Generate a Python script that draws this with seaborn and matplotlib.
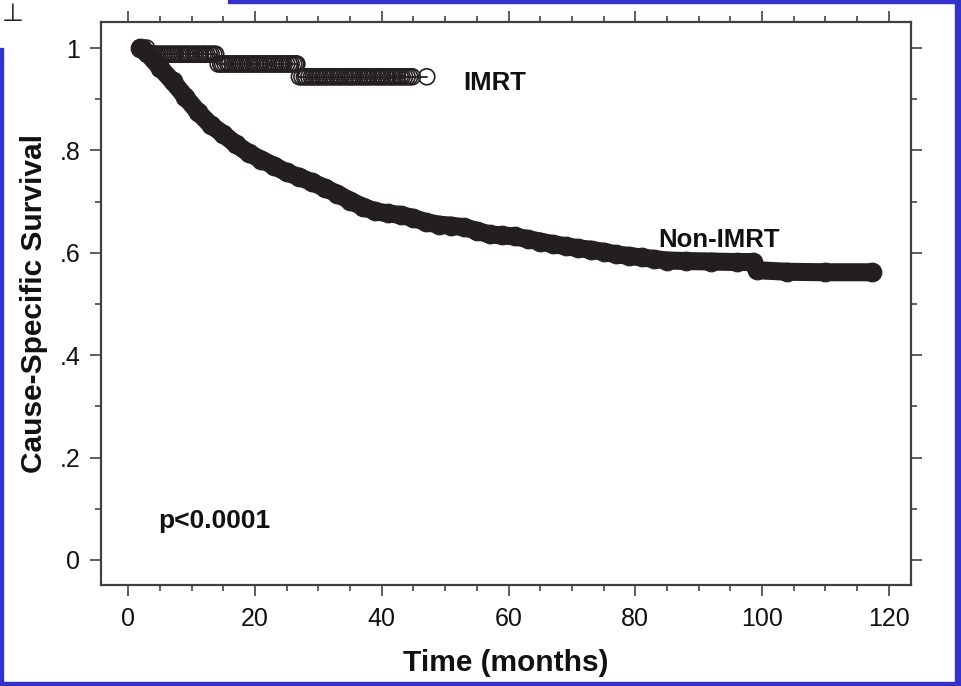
import matplotlib
matplotlib.use("Agg")
import matplotlib.pyplot as plt
import seaborn as sns
import pandas as pd
import numpy as np
from matplotlib.patches import Rectangle
from matplotlib.ticker import MultipleLocator

# ---------------- data ----------------
nonimrt_months = [1.9, 3, 5, 7, 9, 11, 13, 15, 17, 19, 21, 23, 25, 27, 29, 31, 33, 35,
                  37, 39, 41, 43, 45, 47, 49, 51, 53, 55, 57, 59, 61, 63, 65, 67, 69,
                  71, 73, 75, 77, 79, 81, 83, 85, 88, 92, 96, 98.5, 99.2, 104, 110, 117.3]
nonimrt_surv = [1.0, 0.99, 0.962, 0.935, 0.905, 0.875, 0.85, 0.832, 0.812, 0.795, 0.782,
                0.77, 0.757, 0.748, 0.738, 0.727, 0.715, 0.702, 0.690, 0.681, 0.677, 0.674,
                0.668, 0.66, 0.655, 0.653, 0.65, 0.643, 0.636, 0.634, 0.632, 0.627, 0.622,
                0.617, 0.613, 0.609, 0.606, 0.602, 0.597, 0.594, 0.591, 0.588, 0.585,
                0.584, 0.583, 0.582, 0.582, 0.566, 0.563, 0.562, 0.562]

imrt_step_months = [1.9, 3.0, 14.0, 26.8, 47.1]
imrt_step_surv = [1.0, 0.988, 0.969, 0.944, 0.944]
imrt_censor_months = [2.4, 2.9, 3.2, 3.6, 4.0, 4.3, 4.6, 5.0, 5.3, 5.7, 6.1, 6.4, 6.8,
                      7.1, 7.4, 7.8, 8.2, 8.5, 8.9, 9.2, 9.5, 9.9, 10.3, 10.6, 11.0,
                      11.4, 11.8, 12.1, 12.4, 12.8, 13.1, 13.5, 13.8, 14.2, 14.6, 14.9,
                      15.3, 15.7, 16.0, 16.4, 16.8, 17.1, 17.5, 17.8, 18.1, 18.5, 18.9,
                      19.2, 19.6, 20.0, 20.4, 20.7, 21.0, 21.4, 21.8, 22.1, 22.5, 22.9,
                      23.2, 23.6, 24.0, 24.3, 24.6, 25.0, 25.4, 25.7, 26.1, 26.4, 26.6,
                      27.0, 27.4, 27.8, 28.1, 28.5, 28.9, 29.2, 29.6, 30.0, 30.3, 30.7,
                      31.1, 31.4, 31.8, 32.2, 32.5, 32.9, 33.3, 33.6, 34.0, 34.4, 34.8,
                      35.1, 35.4, 35.8, 36.2, 36.6, 37.0, 37.3, 37.7, 38.0, 38.4, 38.8,
                      39.2, 39.5, 39.9, 40.2, 40.6, 41.0, 41.4, 41.7, 42.1, 42.5, 42.9,
                      43.2, 43.6, 44.0, 44.4, 44.8, 47.1]

x_ticks = [0, 20, 40, 60, 80, 100, 120]
y_ticks = [0, 0.2, 0.4, 0.6, 0.8, 1.0]
y_ticklabels = ["0", ".2", ".4", ".6", ".8", "1"]

# ---------------- style ----------------
sns.set_style("ticks")
plt.rcParams["font.family"] = ["Liberation Sans", "DejaVu Sans"]
INK = "#231f20"

fig = plt.figure(figsize=(9.61, 6.86), dpi=100)
ax = fig.add_axes([101 / 961, 1 - 585 / 686, 810 / 961, 563 / 686])

# Non-IMRT: dense filled censor marks forming a thick band
df_non = pd.DataFrame({"Time": nonimrt_months, "Survival": nonimrt_surv})
sns.lineplot(data=df_non, x="Time", y="Survival", ax=ax, color=INK, lw=13,
             solid_capstyle="round", solid_joinstyle="round", marker="o",
             markersize=13.5, markerfacecolor=INK, markeredgecolor=INK,
             estimator=None, sort=False)

# IMRT: step line with open-circle censor marks
df_imrt = pd.DataFrame({"Time": imrt_step_months, "Survival": imrt_step_surv})
sns.lineplot(data=df_imrt, x="Time", y="Survival", ax=ax, color=INK, lw=1.3,
             drawstyle="steps-post", estimator=None, sort=False)
idx = np.searchsorted(imrt_step_months, imrt_censor_months, side="right") - 1
cens_surv = [imrt_step_surv[i] for i in idx]
df_cens = pd.DataFrame({"Time": imrt_censor_months, "Survival": cens_surv})
sns.scatterplot(data=df_cens, x="Time", y="Survival", ax=ax, marker="o", s=11.5 ** 2,
                facecolor="none", edgecolor=INK, linewidth=1.2)

# ---------------- axes ----------------
ax.set_xlim(-4.3, 123.5)
ax.set_ylim(-0.049, 1.051)
ax.set_xticks(x_ticks)
ax.set_xticklabels([str(v) for v in x_ticks])
ax.set_yticks(y_ticks)
ax.set_yticklabels(y_ticklabels)
ax.xaxis.set_minor_locator(MultipleLocator(5))
ax.yaxis.set_minor_locator(MultipleLocator(0.1))
ax.tick_params(which="both", direction="out", top=True, right=True,
               color="#333333", width=1.1, labelsize=18, labelcolor="#111111")
ax.tick_params(which="major", length=8, pad=7)
ax.tick_params(which="minor", length=4.5)
ax.tick_params(axis="x", which="major", pad=8)
for s in ax.spines.values():
    s.set_visible(True)
    s.set_linewidth(1.6)
    s.set_color("#404040")

ax.set_xlabel("Time (months)", fontsize=21.5, fontweight="bold", color="#111111",
              labelpad=13)
ax.set_ylabel("Cause-Specific Survival", fontsize=21.5, fontweight="bold",
              color="#111111", labelpad=8)

ax.text(52.8, 0.932, "IMRT", fontsize=18.5, fontweight="bold", color="#111111",
        va="center", ha="left")
ax.text(83.6, 0.625, "Non-IMRT", fontsize=18.5, fontweight="bold", color="#111111",
        va="center", ha="left")
ax.text(4.7, 0.076, "p<0.0001", fontsize=19, fontweight="bold", color="#111111",
        va="center", ha="left")

# ---------------- slide frame decorations ----------------
BLUE = "#3333cc"
W, H = 961, 686
def frame_rect(x0, y0, w, h):
    fig.patches.append(Rectangle((x0 / W, 1 - (y0 + h) / H), w / W, h / H,
                                 transform=fig.transFigure, color=BLUE, zorder=10))
frame_rect(228, 0, W - 228, 3)      # top bar
frame_rect(955, 0, 6, H)            # right bar
frame_rect(0, 682, W, 4)            # bottom bar
frame_rect(0, 48, 2.5, H - 48)      # left bar
fig.text(13 / W, 1 - 14 / H, "\u22a5", fontsize=18, ha="center", va="center",
         color="#222222", family=["DejaVu Sans"])

fig.savefig("out.png", dpi=100)
